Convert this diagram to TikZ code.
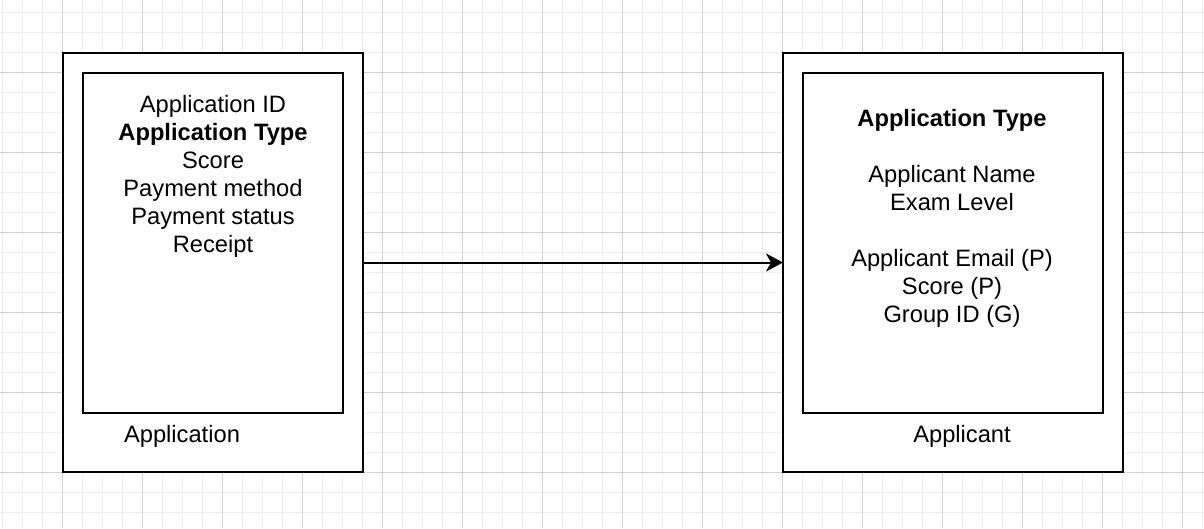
\documentclass[tikz,border=0pt]{standalone}
\usepackage{fontspec}
\setmainfont{Liberation Sans}
\usetikzlibrary{arrows.meta}
\begin{document}
\begin{tikzpicture}[x=1pt,y=-1pt,
  box/.style={draw=black,line width=2pt,fill=white,inner sep=0pt,outer sep=0pt,anchor=north west},
  txt/.style={anchor=base,inner sep=0pt,font=\fontsize{23.7}{28}\selectfont},
  btxt/.style={txt,font=\fontsize{23.7}{28}\selectfont\bfseries},
  minorgrid/.style={draw=black!6,line width=1pt},
  majorgrid/.style={draw=black!18,line width=1pt},
  conn/.style={draw=black,line width=2pt,-{Stealth[length=17pt,width=18pt,inset=5pt]}}]
\useasboundingbox (0,0) rectangle (1204,528);
\fill[white] (0,0) rectangle (1204,528);
\foreach \x in {2,22,...,1202} \draw[minorgrid] (\x,0) -- (\x,528);
\foreach \y in {12,32,...,522} \draw[minorgrid] (0,\y) -- (1204,\y);
\foreach \x in {62,142,...,1202} \draw[majorgrid] (\x,0) -- (\x,528);
\foreach \y in {72,152,...,522} \draw[majorgrid] (0,\y) -- (1204,\y);

% Application entity
\node[box,minimum width=300pt,minimum height=419pt] (appOuter) at (63,53) {};
\node[box,minimum width=260pt,minimum height=340pt] (appInner) at (83,73) {};
\node[txt]  (a1) at (213,112) {Application ID};
\node[btxt] (a2) at (213,140) {Application Type};
\node[txt]  (a3) at (213,168) {Score};
\node[txt]  (a4) at (213,196) {Payment method};
\node[txt]  (a5) at (213,224) {Payment status};
\node[txt]  (a6) at (213,252) {Receipt};
\node[txt]  (appLabel) at (182,442) {Application};

% Applicant entity
\node[box,minimum width=340pt,minimum height=419pt] (aplOuter) at (783,53) {};
\node[box,minimum width=300pt,minimum height=340pt] (aplInner) at (803,73) {};
\node[btxt] (b1) at (952,126.5) {Application Type};
\node[txt]  (b2) at (952,182.5) {Applicant Name};
\node[txt]  (b3) at (952,210.5) {Exam Level};
\node[txt]  (b4) at (952,266.5) {Applicant Email (P)};
\node[txt]  (b5) at (952,294.5) {Score (P)};
\node[txt]  (b6) at (952,322.5) {Group ID (G)};
\node[txt]  (aplLabel) at (962,442) {Applicant};

\draw[conn] (appOuter.east) -- (aplOuter.west);
\end{tikzpicture}
\end{document}
